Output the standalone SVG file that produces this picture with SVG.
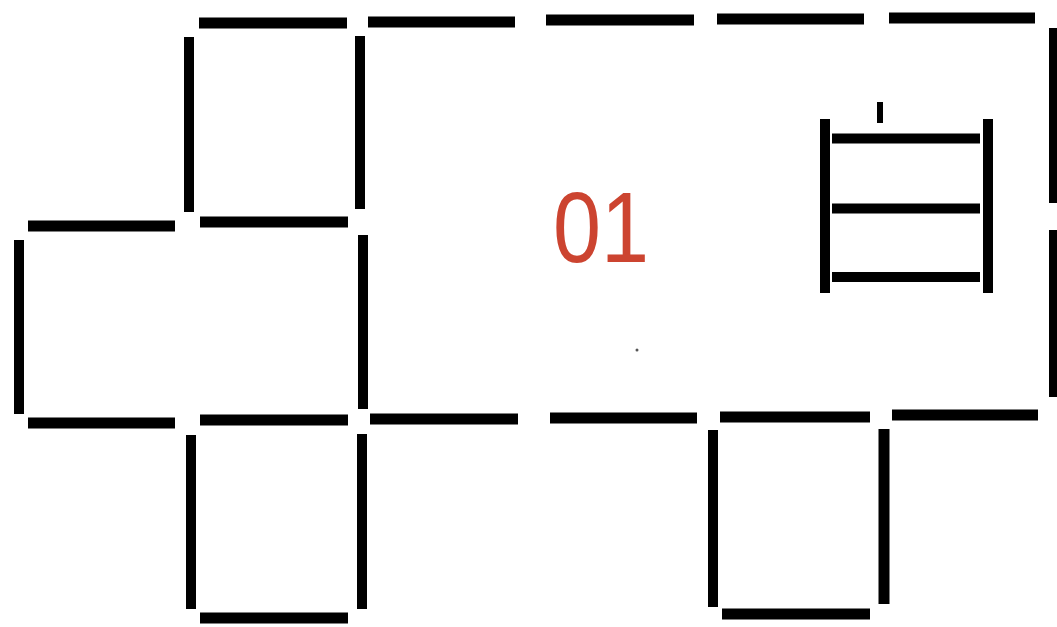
<svg xmlns="http://www.w3.org/2000/svg" width="1057" height="627" viewBox="0 0 1057 627">
<style>
.m{stroke:#000;stroke-width:11;stroke-linecap:butt;fill:none}
.t{stroke:#000;stroke-width:10;stroke-linecap:butt;fill:none}
.lbl{font-family:"Liberation Sans",Arial,sans-serif;font-size:100px;fill:#cc4430}
</style>
<rect width="1057" height="627" fill="#fff"/>
<g id="sticks">
<line class="m" x1="199" y1="23" x2="347" y2="23"/>
<line class="m" x1="368" y1="22" x2="515" y2="22"/>
<line class="m" x1="546" y1="20" x2="694" y2="20"/>
<line class="m" x1="717" y1="19" x2="864" y2="19"/>
<line class="m" x1="889" y1="18" x2="1035" y2="18"/>
<line class="t" x1="189" y1="37" x2="189" y2="212"/>
<line class="t" x1="360" y1="36" x2="360" y2="209"/>
<line class="m" x1="200" y1="222" x2="348" y2="222"/>
<line class="m" x1="28" y1="226" x2="175" y2="226"/>
<line class="t" x1="19" y1="240" x2="19" y2="414"/>
<line class="m" x1="28" y1="423" x2="175" y2="423"/>
<line class="t" x1="363" y1="235" x2="363" y2="409"/>
<line class="m" x1="200" y1="420" x2="348" y2="420"/>
<line class="m" x1="370" y1="419" x2="518" y2="419"/>
<line class="m" x1="550" y1="418" x2="697" y2="418"/>
<line class="m" x1="720" y1="417" x2="870" y2="417"/>
<line class="m" x1="892" y1="415" x2="1038" y2="415"/>
<line class="t" x1="191" y1="435" x2="191" y2="609"/>
<line class="t" x1="362" y1="434" x2="362" y2="609"/>
<line class="m" x1="200" y1="618" x2="348" y2="618"/>
<line class="t" x1="713" y1="430" x2="713" y2="607"/>
<line class="m" x1="884" y1="429" x2="884" y2="604"/>
<line class="m" x1="722" y1="614" x2="870" y2="614"/>
<line class="t" x1="1054" y1="28" x2="1054" y2="203"/>
<line class="t" x1="1054" y1="230" x2="1054" y2="397"/>
</g>
<g id="ladder">
<line class="t" x1="825" y1="119" x2="825" y2="293"/>
<line class="t" x1="988" y1="119" x2="988" y2="293"/>
<line stroke="#000" stroke-width="6" x1="880" y1="102" x2="880" y2="123"/>
<line class="t" x1="832" y1="138.5" x2="980" y2="138.5"/>
<line class="t" x1="832" y1="208.5" x2="980" y2="208.5"/>
<line class="t" x1="832" y1="277" x2="980" y2="277"/>
</g>
<circle cx="637" cy="350" r="1.5" fill="#555"/>
<text class="lbl" x="553" y="262" textLength="96" lengthAdjust="spacingAndGlyphs">01</text>
</svg>
